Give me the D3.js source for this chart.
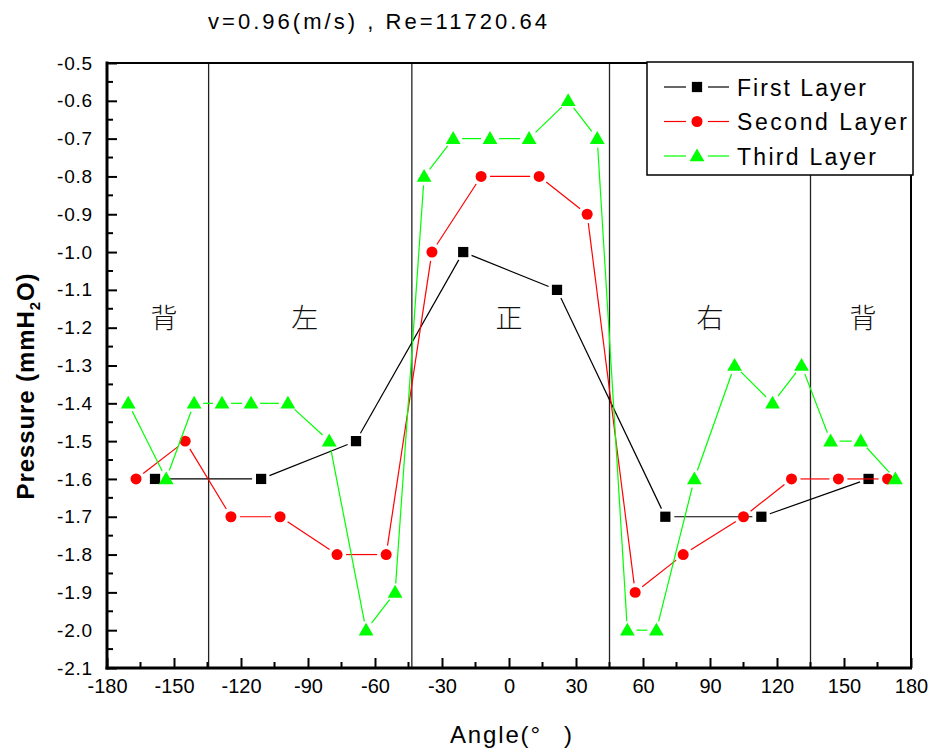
<!DOCTYPE html>
<html>
<head>
<meta charset="utf-8">
<script src="https://cdn.jsdelivr.net/npm/d3@7"></script>
<style>
  html, body { margin: 0; padding: 0; background: #fff; }
  svg { display: block; font-family: "Liberation Sans", Arial, sans-serif; }
</style>
</head>
<body>
<svg id="chart" width="933" height="756"></svg>
<script>
// ---------- data ----------
const titleText = "v=0.96(m/s) , Re=11720.64";
const xTicks = [-180, -150, -120, -90, -60, -30, 0, 30, 60, 90, 120, 150, 180];
const yTicks = [-0.5, -0.6, -0.7, -0.8, -0.9, -1.0, -1.1, -1.2, -1.3, -1.4, -1.5, -1.6, -1.7, -1.8, -1.9, -2.0, -2.1];
const sectionLines = [-134.5, -43.5, 45, 135];
const sectionNames = ["背", "左", "正", "右", "背"];
const sectionNameAngles = [-154.5, -91.5, 0, 90, 158.5];
const sectionNameValue = -1.17;

const seriesNames = ["First Layer", "Second Layer", "Third Layer"];
const seriesColors = ["#000000", "#ff0000", "#00ff00"];

const firstAngle = [-158.5, -111, -68.5, -20.5, 21.5, 70, 113, 161];
const firstValue = [-1.6, -1.6, -1.5, -1.0, -1.1, -1.7, -1.7, -1.6];

const secondAngle = [-167, -145, -124.5, -102.5, -77, -55, -34.5, -12.5, 13.5, 35, 56.5, 78, 105, 126.5, 147.5, 169.5];
const secondValue = [-1.6, -1.5, -1.7, -1.7, -1.8, -1.8, -1.0, -0.8, -0.8, -0.9, -1.9, -1.8, -1.7, -1.6, -1.6, -1.6];

const thirdAngle = [-170.5, -153.5, -141, -128.5, -115.5, -99, -80.5, -64, -51, -38, -25, -8.5, 9, 26.5, 39.5, 53, 66, 83, 101, 118, 131, 144, 157.5, 173];
const thirdValue = [-1.4, -1.6, -1.4, -1.4, -1.4, -1.4, -1.5, -2.0, -1.9, -0.8, -0.7, -0.7, -0.7, -0.6, -0.7, -2.0, -2.0, -1.6, -1.3, -1.4, -1.3, -1.5, -1.5, -1.6];

// ---------- layout ----------
const svg = d3.select("#chart");
const L = 107, R = 911, T = 63, B = 668;

const x = d3.scaleLinear().domain([-180, 180]).range([L, R]);
const y = d3.scaleLinear().domain([-0.5, -2.1]).range([T, B]);

// section lines
svg.append("g").selectAll("line").data(sectionLines).join("line")
  .attr("x1", d => x(d)).attr("x2", d => x(d))
  .attr("y1", T).attr("y2", B)
  .attr("stroke", "#222").attr("stroke-width", 1.3);

// section names
svg.append("g").selectAll("text").data(sectionNames).join("text")
  .attr("x", (d, i) => x(sectionNameAngles[i]))
  .attr("y", y(sectionNameValue))
  .attr("text-anchor", "middle")
  .attr("dominant-baseline", "central")
  .style("font-family", '"Noto Sans CJK SC", "Noto Sans CJK JP", sans-serif')
  .style("font-size", "27px")
  .style("font-weight", 300)
  .attr("fill", "#111")
  .text(d => d);

// axes (ticks inward)
const xAxis = d3.axisBottom(x).tickValues(xTicks).tickSize(-10).tickPadding(20).tickFormat(d => String(d));
const gx = svg.append("g").attr("transform", `translate(0,${B})`).call(xAxis);
gx.select(".domain").remove();
gx.selectAll(".tick line").attr("stroke", "#000").attr("stroke-width", 2);
gx.selectAll(".tick text").style("font-size", "20px").attr("fill", "#000").attr("dy", "0.25em");

const xMinor = d3.range(-165, 180, 30);
svg.append("g").selectAll("line").data(xMinor).join("line")
  .attr("x1", d => x(d)).attr("x2", d => x(d))
  .attr("y1", B).attr("y2", B - 6)
  .attr("stroke", "#000").attr("stroke-width", 2);

const yAxis = d3.axisLeft(y).tickValues(yTicks).tickSize(-10).tickPadding(14).tickFormat(d => d.toFixed(1));
const gy = svg.append("g").attr("transform", `translate(${L},0)`).call(yAxis);
gy.select(".domain").remove();
gy.selectAll(".tick line").attr("stroke", "#000").attr("stroke-width", 2);
gy.selectAll(".tick text").style("font-size", "19px").attr("fill", "#000").style("letter-spacing", "0.8px");

const yMinor = d3.range(0, 16).map(i => -0.55 - i * 0.1);
svg.append("g").selectAll("line").data(yMinor).join("line")
  .attr("x1", L).attr("x2", L + 6)
  .attr("y1", d => y(d)).attr("y2", d => y(d))
  .attr("stroke", "#000").attr("stroke-width", 2);

// frame
svg.append("line").attr("x1", L).attr("x2", R).attr("y1", T).attr("y2", T).attr("stroke", "#000").attr("stroke-width", 2);
svg.append("line").attr("x1", R).attr("x2", R).attr("y1", T).attr("y2", B).attr("stroke", "#000").attr("stroke-width", 2);
svg.append("line").attr("x1", L).attr("x2", L).attr("y1", T - 1.5).attr("y2", B + 1.5).attr("stroke", "#000").attr("stroke-width", 3);
svg.append("line").attr("x1", L - 1.5).attr("x2", R + 1).attr("y1", B).attr("y2", B).attr("stroke", "#000").attr("stroke-width", 3);

// ---------- series ----------
const series = [
  { name: seriesNames[0], color: seriesColors[0], angle: firstAngle, value: firstValue, shape: "square" },
  { name: seriesNames[1], color: seriesColors[1], angle: secondAngle, value: secondValue, shape: "circle" },
  { name: seriesNames[2], color: seriesColors[2], angle: thirdAngle, value: thirdValue, shape: "triangle" }
];

const symbolFor = {
  square: d3.symbol().type(d3.symbolSquare).size(105),
  circle: d3.symbol().type(d3.symbolCircle).size(95),
  triangle: d3.symbol().type(d3.symbolTriangle).size(95)
};

const GAP = 9;
function gappedSegments(pts) {
  const segs = [];
  for (let i = 0; i < pts.length - 1; i++) {
    const [x1, y1] = pts[i], [x2, y2] = pts[i + 1];
    const dx = x2 - x1, dy = y2 - y1, len = Math.hypot(dx, dy);
    if (len <= 2 * GAP) continue;
    const ux = dx / len, uy = dy / len;
    segs.push([x1 + ux * GAP, y1 + uy * GAP, x2 - ux * GAP, y2 - uy * GAP]);
  }
  return segs;
}

series.forEach(s => {
  const pts = s.angle.map((a, i) => [x(a), y(s.value[i])]);
  const g = svg.append("g");
  g.selectAll("line").data(gappedSegments(pts)).join("line")
    .attr("x1", d => d[0]).attr("y1", d => d[1])
    .attr("x2", d => d[2]).attr("y2", d => d[3])
    .attr("stroke", s.color).attr("stroke-width", 1.2);
  g.selectAll("path").data(pts).join("path")
    .attr("d", symbolFor[s.shape])
    .attr("transform", d => `translate(${d[0]},${d[1] + (s.shape === "triangle" ? 1 : 0)})`)
    .attr("fill", s.color);
});

// ---------- legend ----------
const lg = svg.append("g");
lg.append("rect").attr("x", 647).attr("y", 62).attr("width", 266).attr("height", 113)
  .attr("fill", "#fff").attr("stroke", "#000").attr("stroke-width", 1.5);
const rowY = [87, 121.5, 156];
const legLens = [129, 170, 139];
series.forEach((s, i) => {
  const ry = rowY[i];
  lg.append("line").attr("x1", 664).attr("x2", 686).attr("y1", ry).attr("y2", ry).attr("stroke", s.color).attr("stroke-width", 1.2);
  lg.append("line").attr("x1", 708).attr("x2", 729).attr("y1", ry).attr("y2", ry).attr("stroke", s.color).attr("stroke-width", 1.2);
  lg.append("path").attr("d", symbolFor[s.shape])
    .attr("transform", `translate(697,${ry + (s.shape === "triangle" ? 1 : 0)})`).attr("fill", s.color);
  lg.append("text").attr("x", 737).attr("y", ry + 8.5)
    .style("font-size", "23px").attr("fill", "#000")
    .attr("textLength", legLens[i]).attr("lengthAdjust", "spacing")
    .text(s.name);
});

// ---------- titles ----------
svg.append("text").attr("x", 208).attr("y", 29)
  .style("font-size", "22px").attr("fill", "#000")
  .attr("textLength", 339).attr("lengthAdjust", "spacing")
  .text(titleText);

svg.append("text").attr("x", 450).attr("y", 743)
  .style("font-size", "24px").attr("fill", "#000")
  .attr("textLength", 90).attr("lengthAdjust", "spacing")
  .text("Angle(°");
svg.append("text").attr("x", 564).attr("y", 743)
  .style("font-size", "24px").attr("fill", "#000")
  .text(")");

const yt = svg.append("text")
  .attr("transform", "translate(34,386) rotate(-90)")
  .attr("text-anchor", "middle")
  .style("font-size", "24px").style("font-weight", "bold").style("letter-spacing", "0.9px")
  .attr("fill", "#000");
yt.append("tspan").text("Pressure (mmH");
yt.append("tspan").attr("dy", 6).style("font-size", "15px").text("2");
yt.append("tspan").attr("dy", -6).text("O)");
</script>
</body>
</html>
